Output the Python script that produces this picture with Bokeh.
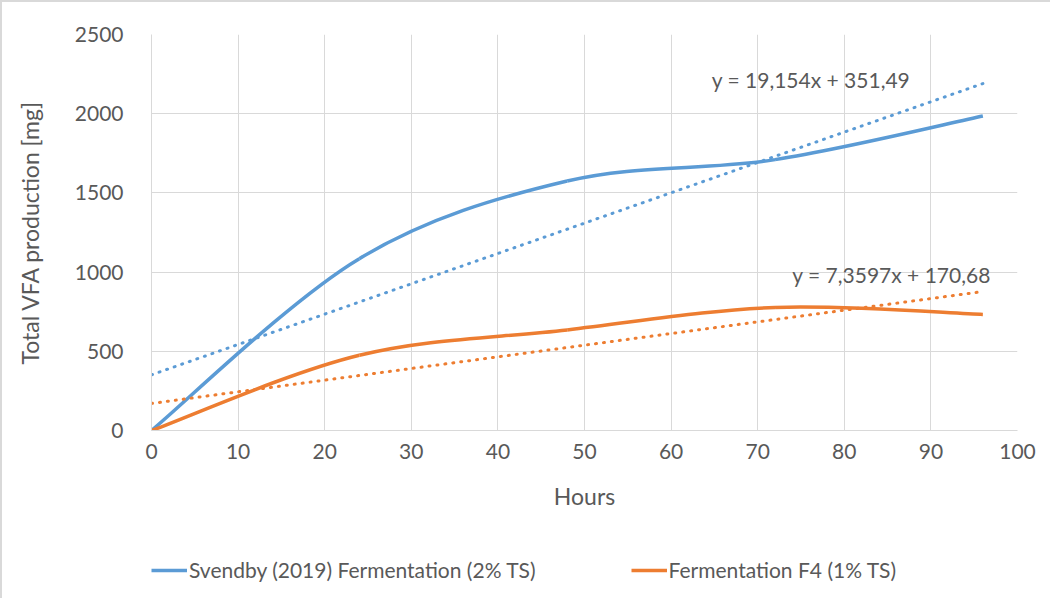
from bokeh.plotting import figure
from bokeh.layouts import column
from bokeh.models import ColumnDataSource, Legend, LegendItem, Label, FixedTicker
from bokeh.embed import file_html
from bokeh.resources import INLINE
import numpy as np

# ---- data ----
hours = [0, 24, 48, 72, 96]
svendby = [0, 1085, 1575, 1710, 1985]
f4 = [0, 475, 635, 777, 733]
series_names = ["Svendby (2019) Fermentation (2% TS)", "Fermentation F4 (1% TS)"]
series_colors = ["#5B9BD5", "#ED7D31"]
trend_slope = [19.154, 7.3597]
trend_intercept = [351.49, 170.68]
trend_labels = ["y = 19,154x + 351,49", "y = 7,3597x + 170,68"]
x_ticks = [0, 10, 20, 30, 40, 50, 60, 70, 80, 90, 100]
y_ticks = [0, 500, 1000, 1500, 2000, 2500]

FONT = "Lato"
TXT = "#595959"
GRID = "#d9d9d9"


def excel_smooth(xs, ys):
    """Bezier segments like Excel's smoothed line (control = neighbours/6)."""
    n = len(xs)
    d = dict(x0=[], y0=[], x1=[], y1=[], cx0=[], cy0=[], cx1=[], cy1=[])
    for i in range(n - 1):
        xp, yp = (xs[i - 1], ys[i - 1]) if i > 0 else (xs[i], ys[i])
        xn2, yn2 = (xs[i + 2], ys[i + 2]) if i + 2 < n else (xs[i + 1], ys[i + 1])
        d["x0"].append(xs[i]); d["y0"].append(ys[i])
        d["x1"].append(xs[i + 1]); d["y1"].append(ys[i + 1])
        d["cx0"].append(xs[i] + (xs[i + 1] - xp) / 6)
        d["cy0"].append(ys[i] + (ys[i + 1] - yp) / 6)
        d["cx1"].append(xs[i + 1] - (xn2 - xs[i]) / 6)
        d["cy1"].append(ys[i + 1] - (yn2 - ys[i]) / 6)
    return d


W = 1050
p = figure(width=W, height=518, output_backend="svg", toolbar_location=None,
           x_range=(0, 100), y_range=(0, 2500),
           min_border_left=149, min_border_top=32, min_border_right=35,
           min_border_bottom=90)
p.outline_line_color = None
p.background_fill_color = "white"
p.border_fill_color = "white"
p.styles = {"border-top": "2px solid #d9d9d9", "border-left": "2px solid #d9d9d9"}

for ax in (p.xaxis[0], p.yaxis[0]):
    ax.axis_line_color = GRID
    ax.major_tick_line_color = None
    ax.minor_tick_line_color = None
    ax.major_label_text_font = FONT
    ax.major_label_text_font_size = "21px"
    ax.major_label_text_color = TXT
    ax.axis_label_text_font = FONT
    ax.axis_label_text_font_size = "23px"
    ax.axis_label_text_font_style = "normal"
    ax.axis_label_text_color = TXT

p.xaxis.ticker = FixedTicker(ticks=x_ticks)
p.yaxis.ticker = FixedTicker(ticks=y_ticks)
p.xaxis.axis_label = "Hours"
p.yaxis.axis_label = "Total VFA production [mg]"
p.xaxis.major_label_standoff = 7
p.xaxis.axis_label_standoff = 20
p.yaxis.major_label_standoff = 22
p.yaxis.axis_label_standoff = 28
p.xgrid.grid_line_color = GRID
p.ygrid.grid_line_color = GRID
p.xgrid.ticker = FixedTicker(ticks=x_ticks)
p.ygrid.ticker = FixedTicker(ticks=y_ticks)

for vals, col, m, b in zip([svendby, f4], series_colors, trend_slope, trend_intercept):
    src = ColumnDataSource(excel_smooth(hours, vals))
    p.bezier(x0="x0", y0="y0", x1="x1", y1="y1", cx0="cx0", cy0="cy0",
             cx1="cx1", cy1="cy1", source=src, line_color=col, line_width=3.5)
    xs = [hours[0], hours[-1]]
    p.line(xs, [m * x + b for x in xs], line_color=col, line_width=3,
           line_dash="1 7", line_cap="round")

p.add_layout(Label(x=64.7, y=2216, text=trend_labels[0], text_font=FONT,
                   text_font_size="21px", text_color=TXT, text_baseline="middle"))
p.add_layout(Label(x=74.0, y=985, text=trend_labels[1], text_font=FONT,
                   text_font_size="21px", text_color=TXT, text_baseline="middle"))

# legend strip below the chart (its series lie outside its visible range)
p2 = figure(width=W, height=80, output_backend="svg", toolbar_location=None,
            x_range=(1000, 1001), y_range=(0, 1),
            min_border_left=0, min_border_right=0, min_border_top=0, min_border_bottom=0)
p2.axis.visible = False
p2.grid.visible = False
p2.outline_line_color = None
p2.border_fill_color = "white"
p2.styles = {"border-left": "2px solid #d9d9d9"}
items = []
for vals, name, col in zip([svendby, f4], series_names, series_colors):
    r = p2.line(x=hours, y=vals, line_color=col, line_width=3.5)
    items.append(LegendItem(label=name, renderers=[r]))
legend = Legend(items=items, orientation="horizontal", location=(0, 16),
                label_text_font=FONT, label_text_font_size="21px",
                label_text_color=TXT, glyph_width=36, glyph_height=20,
                label_standoff=2, spacing=95, padding=0, margin=0,
                border_line_color=None, background_fill_alpha=0)
p2.add_layout(legend, "center")

layout = column(p, p2, spacing=0)
open("out.html", "w").write(file_html(layout, INLINE))
